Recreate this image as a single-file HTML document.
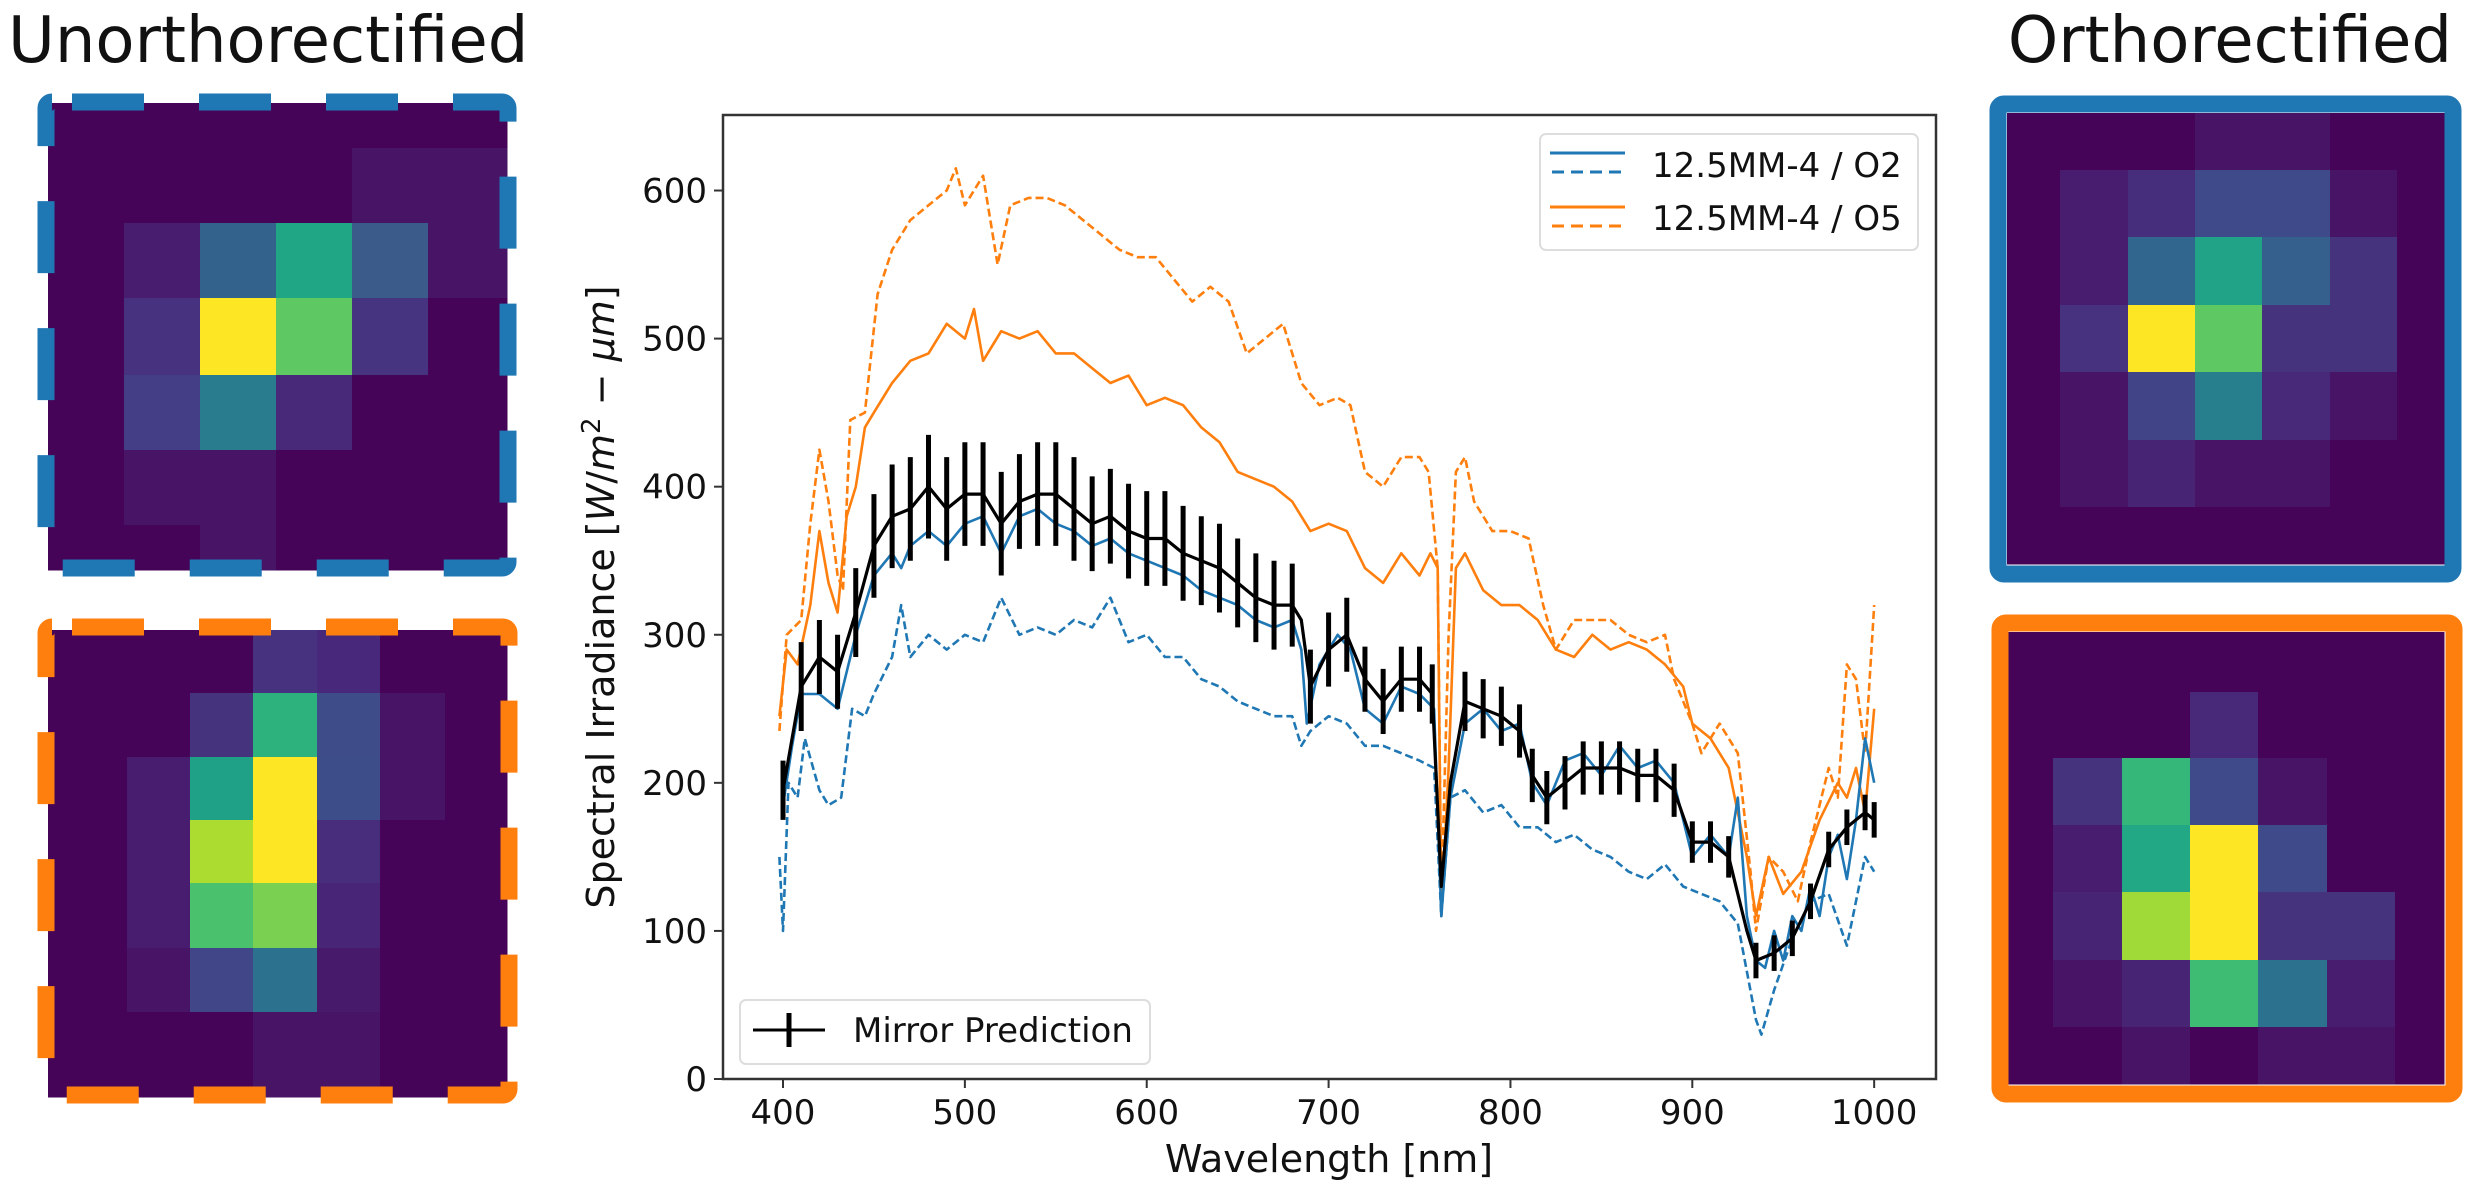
<!DOCTYPE html>
<html><head><meta charset="utf-8"><style>
html,body{margin:0;padding:0;background:#fff;}
svg{display:block;font-family:"DejaVu Sans","Liberation Sans",sans-serif;}
</style></head><body>
<svg id="fig" width="2475" height="1196" viewBox="0 0 2475 1196" xmlns="http://www.w3.org/2000/svg">
<text x="8" y="62" font-size="64" fill="#111">Unorthorectified</text>
<text x="2452" y="62" font-size="64" fill="#111" text-anchor="end">Orthorectified</text>
<g id="heatmaps"></g>
<g id="chart"></g>
</svg>
<script>
// ---------- chart data ----------
const blackWl   = [400,410,420,430,440,450,460,470,480,490,500,510,520,530,540,550,560,570,580,590,600,610,620,630,640,650,660,670,680,685,690,700,710,720,730,740,750,757,762,767,775,785,795,805,812,820,830,840,850,860,870,880,890,900,910,920,930,935,945,955,965,975,985,995,1000];
const blackVal  = [195,265,285,275,315,360,380,385,400,385,395,395,375,390,395,395,385,375,380,370,365,365,355,350,345,335,325,320,320,310,265,290,300,270,255,270,270,260,130,200,255,250,245,235,205,190,200,210,210,210,205,205,195,160,160,150,100,80,85,95,120,155,170,180,175];
const blackErr  = [20,30,25,25,30,35,35,35,35,35,35,35,35,32,35,35,35,32,32,32,32,32,32,30,30,30,30,30,28,0,25,25,25,22,22,22,22,20,0,0,20,20,20,18,18,18,18,18,18,18,18,18,18,14,14,14,0,12,12,12,12,12,12,12,12];

const o2SolidWl  = [400,405,410,420,430,440,450,460,465,470,480,490,500,510,520,530,540,550,560,570,580,590,600,610,620,630,640,650,660,670,680,685,688,695,705,712,720,730,740,750,758,762,767,775,785,795,805,812,820,830,840,850,860,870,880,890,900,910,920,925,930,935,940,945,950,955,960,965,970,975,980,985,990,995,1000];
const o2SolidVal = [185,225,260,260,250,300,340,355,345,360,370,360,375,380,355,380,385,375,370,360,365,355,350,345,340,330,325,320,310,305,310,290,240,280,300,290,250,240,265,260,250,110,190,240,250,235,240,200,185,215,220,205,225,210,215,200,150,165,150,190,110,80,75,100,80,110,100,130,110,150,165,135,175,230,200];

const o2DashWl  = [398,400,403,408,412,420,425,432,438,445,450,460,465,470,480,490,500,510,520,530,540,550,560,570,580,590,600,610,620,630,640,650,660,670,680,685,690,700,710,720,730,740,750,758,762,767,775,785,795,805,815,825,835,845,855,865,875,885,895,905,915,925,935,938,945,955,965,975,985,990,995,1000];
const o2DashVal = [150,100,200,190,230,195,185,190,250,245,260,285,320,285,300,290,300,295,325,300,305,300,310,305,325,295,300,285,285,270,265,255,250,245,245,225,235,245,240,225,225,220,215,210,110,190,195,180,185,170,170,160,165,155,150,140,135,145,130,125,120,105,40,30,60,95,120,125,90,120,150,140];

const o5SolidWl  = [398,402,408,415,420,425,430,435,440,445,450,460,470,480,490,500,505,510,520,530,540,550,560,570,580,590,600,610,620,630,640,650,660,670,680,690,700,710,720,730,740,750,756,760,762,766,770,775,785,795,805,815,825,835,845,855,865,875,885,895,900,910,920,930,935,942,950,960,970,980,985,990,995,1000];
const o5SolidVal = [245,290,280,320,370,335,315,380,400,440,450,470,485,490,510,500,520,485,505,500,505,490,490,480,470,475,455,460,455,440,430,410,405,400,390,370,375,370,345,335,355,340,355,345,110,210,345,355,330,320,320,310,290,285,300,290,295,290,280,265,240,230,210,150,110,150,125,140,175,200,190,210,180,250];

const o5DashWl  = [398,402,410,415,420,425,430,433,437,445,452,460,470,475,480,490,495,500,510,518,525,535,545,555,565,575,585,595,605,615,625,635,645,655,665,675,685,695,705,712,720,730,740,750,755,760,762,766,770,775,780,790,800,810,818,825,835,845,855,865,875,885,890,900,905,915,925,932,935,942,950,958,965,975,980,985,990,995,1000];
const o5DashVal = [235,300,310,375,425,390,340,330,445,450,530,560,580,585,590,600,615,590,610,550,590,595,595,590,580,570,560,555,555,540,525,535,525,490,500,510,470,455,460,455,410,400,420,420,410,345,120,300,410,420,390,370,370,365,320,290,310,310,310,300,295,300,270,240,220,240,220,140,100,150,140,120,160,210,190,280,270,220,320];

const xTicks = [400,500,600,700,800,900,1000];
const yTicks = [0,100,200,300,400,500,600];

// ---------- heatmap data (viridis colours per cell) ----------
const D='#450457', S='#471466', S2='#481c6e';
const hmTopLeft = [
 [D,D,D,D,D,D,D].slice(0,6),
 [D,D,D,D,S,S],
 [D,S2,'#33638d','#21a685','#3b5b8b',S],
 [D,'#46327e','#fde725','#5ec962','#463480',D],
 [D,'#433e85','#287c8e','#482878',D,D],
 [D,S,S,D,D,D],
 [D,D,S,D,D,D]
];
const hmBotLeft = [
 [D,D,D,'#46327e','#48287a',D,D],
 [D,D,'#46337e','#2db27d','#3e4c8a',S,D],
 [D,S2,'#1fa187','#fde725','#3d4d8a',S,D],
 [D,S2,'#addc30','#fde725','#472d7b',D,D],
 [D,S2,'#4ac16d','#7ad151','#482576',D,D],
 [D,S,'#404688','#2c718e','#481a6c',D,D],
 [D,D,D,S,S,D,D]
];
const hmTopRight = [
 [D,D,D,S,S,D,D],
 [D,S2,'#472e7c','#3e4a89','#3e4a89',S,D],
 [D,S2,'#31668e','#20a386','#355f8d','#46337e',D],
 [D,'#46327e','#fde725','#5ec962','#46337e','#46337e',D],
 [D,S,'#414487','#277f8e','#482878',S,D],
 [D,S,'#482475',S,S,D,D],
 [D,D,D,D,D,D,D]
];
const hmBotRight = [
 [D,D,D,D,D,D,D],
 [D,D,D,'#482878',D,D,D],
 [D,'#46337e','#35b779','#3e4a89',S,D,D],
 [D,S2,'#22a884','#fde725','#3e4a89',D,D],
 [D,'#482475','#a0da39','#fde725','#46337e','#46337e',D],
 [D,S,'#482475','#3fbc73','#2c728e',S2,D],
 [D,D,S,D,S,S,D]
];

const NS='http://www.w3.org/2000/svg';
function mk(tag, attrs, parent){const e=document.createElementNS(NS,tag);for(const k in attrs)e.setAttribute(k,attrs[k]);if(parent)parent.appendChild(e);return e;}

// ---------- heatmaps ----------
const hmG=document.getElementById('heatmaps');
const panels=[
 {name:'unortho-o2-heatmap', data:hmTopLeft, xs:[48,124,200,276,352,428,507], ys:[103,148,223,298,375,450,525,570], frame:{x:46,y:102,w:462,h:466,c:'#1f77b4',dash:true}},
 {name:'unortho-o5-heatmap', data:hmBotLeft, xs:[48,127,190,253,317,380,445,507], ys:[630,693,757,820,883,948,1012,1097], frame:{x:46,y:627,w:463,h:468,c:'#ff7f0e',dash:true}},
 {name:'ortho-o2-heatmap', data:hmTopRight, xs:[2007,2060,2128,2195,2262,2330,2397,2444], ys:[113,170,237,305,372,440,507,564], frame:{x:1998,y:104,w:455,h:470,c:'#1f77b4',dash:false}},
 {name:'ortho-o5-heatmap', data:hmBotRight, xs:[2008,2053,2122,2190,2258,2327,2395,2444], ys:[632,692,758,825,892,960,1027,1084], frame:{x:2000,y:623,w:454,h:471,c:'#ff7f0e',dash:false}}
];
panels.forEach(p=>{
  const g=mk('g',{},hmG);
  
  
  p.data.forEach((row,r)=>{
    row.forEach((col,c)=>{
      if(c+1>=p.xs.length||r+1>=p.ys.length)return;
      const cell=mk('rect',{x:p.xs[c],y:p.ys[r],width:p.xs[c+1]-p.xs[c]+0.5,height:p.ys[r+1]-p.ys[r]+0.5,fill:col},g);
      
      
    });
  });
  const f=p.frame;
  const fr=mk('rect',{x:f.x,y:f.y,width:f.w,height:f.h,rx:6,fill:'none',stroke:f.c,'stroke-width':17},g);
  if(f.dash){fr.setAttribute('stroke-dasharray','72 55');fr.setAttribute('stroke-dashoffset','-20');}
  
  
});

// ---------- chart ----------
const C=document.getElementById('chart');
const L=723,R=1936,T=115,B=1079;
const x0=367,x1=1034,y0=0,y1=651;
const sx=v=>L+(v-x0)/(x1-x0)*(R-L);
const sy=v=>B-(v-y0)/(y1-y0)*(B-T);

const clip=mk('clipPath',{id:'pc'},C);mk('rect',{x:L,y:T,width:R-L,height:B-T},clip);

function line(wl,val,color,w,dash,name){
  const d=wl.map((v,i)=>(i?'L':'M')+sx(v).toFixed(1)+','+sy(val[i]).toFixed(1)).join('');
  const p=mk('path',{d:d,fill:'none',stroke:color,'stroke-width':w,'stroke-linejoin':'round','clip-path':'url(#pc)'},C);
  if(dash)p.setAttribute('stroke-dasharray',dash);
  
  
}
line(o5DashWl,o5DashVal,'#ff7f0e',2.6,'8 4','o5-dashed-line');
line(o5SolidWl,o5SolidVal,'#ff7f0e',2.6,null,'o5-solid-line');
line(o2DashWl,o2DashVal,'#1f77b4',2.6,'8 4','o2-dashed-line');
line(o2SolidWl,o2SolidVal,'#1f77b4',2.6,null,'o2-solid-line');
line(blackWl,blackVal,'#000',3.2,null,'mirror-prediction-line');
blackWl.forEach((w,i)=>{
  if(!blackErr[i])return;
  const e=mk('line',{x1:sx(w),x2:sx(w),y1:sy(blackVal[i]-blackErr[i]),y2:sy(blackVal[i]+blackErr[i]),stroke:'#000','stroke-width':5},C);
  
  
});

// axes box
const box=mk('rect',{x:L,y:T,width:R-L,height:B-T,fill:'none',stroke:'#333','stroke-width':2.5},C);


xTicks.forEach(t=>{
  mk('line',{x1:sx(t),x2:sx(t),y1:B,y2:B+9,stroke:'#333','stroke-width':2},C);
  const tx=mk('text',{x:sx(t),y:B+45,'font-size':34,'text-anchor':'middle',fill:'#111'},C);
  tx.textContent=t;
  
  
});
yTicks.forEach(t=>{
  mk('line',{x1:L-9,x2:L,y1:sy(t),y2:sy(t),stroke:'#333','stroke-width':2},C);
  const tx=mk('text',{x:L-16,y:sy(t)+12,'font-size':34,'text-anchor':'end',fill:'#111'},C);
  tx.textContent=t;
  
  
});
</script>
<svg width="0" height="0"></svg>
<script>
const fig=document.getElementById('fig');
const ch=document.getElementById('chart');
ch.insertAdjacentHTML('beforeend',
 '<text x="1329" y="1172" font-size="38" text-anchor="middle" fill="#111">Wavelength [nm]</text>'+
 '<text transform="translate(614,597) rotate(-90)" font-size="38" text-anchor="middle" fill="#111">Spectral Irradiance [<tspan font-style="italic">W</tspan>/<tspan font-style="italic">m</tspan><tspan font-size="26" dy="-14">2</tspan><tspan dy="14"> − </tspan><tspan font-style="italic">μm</tspan>]</text>'+
 '<g>'+
 '<rect x="1540" y="134" width="378" height="116" rx="6" fill="#fff" fill-opacity="0.85" stroke="#ddd" stroke-width="2"/>'+
 '<line x1="1550" x2="1625" y1="153" y2="153" stroke="#1f77b4" stroke-width="3"/>'+
 '<line x1="1552" x2="1625" y1="172" y2="172" stroke="#1f77b4" stroke-width="3" stroke-dasharray="12 7"/>'+
 '<line x1="1550" x2="1625" y1="207" y2="207" stroke="#ff7f0e" stroke-width="3"/>'+
 '<line x1="1552" x2="1625" y1="226" y2="226" stroke="#ff7f0e" stroke-width="3" stroke-dasharray="12 7"/>'+
 '<text x="1652" y="177" font-size="34" fill="#111">12.5MM-4 / O2</text>'+
 '<text x="1652" y="230" font-size="34" fill="#111">12.5MM-4 / O5</text>'+
 '</g>'+
 '<g>'+
 '<rect x="740" y="1000" width="410" height="64" rx="6" fill="#fff" fill-opacity="0.85" stroke="#ddd" stroke-width="2"/>'+
 '<line x1="753" x2="825" y1="1030" y2="1030" stroke="#000" stroke-width="3"/>'+
 '<line x1="789" x2="789" y1="1013" y2="1047" stroke="#000" stroke-width="5"/>'+
 '<text x="853" y="1042" font-size="34" fill="#111">Mirror Prediction</text>'+
 '</g>');
</script>
</body></html>
